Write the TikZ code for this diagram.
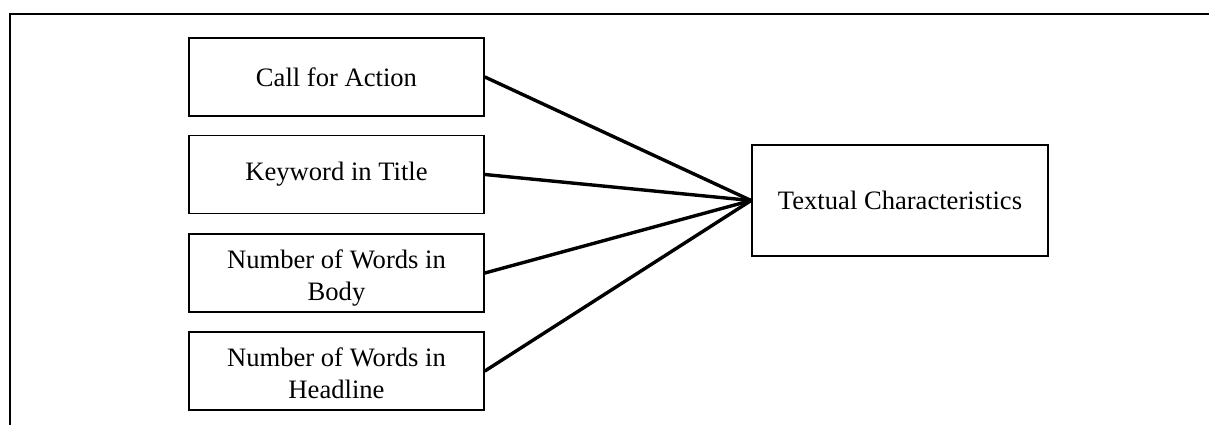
\documentclass[tikz,border=0pt]{standalone}
\usepackage{fontspec}
\setmainfont{Liberation Serif}
% two-line label, set a little below the box centre
\newcommand{\twolines}[2]{\raisebox{-5pt}[\height][\depth]{\begin{tabular}{@{}c@{}}#1\\#2\end{tabular}}}
\begin{document}
\begin{tikzpicture}[x=1pt,y=-1pt,
  factor/.style={draw=black, line width=1.8pt, rectangle, align=center,
    minimum width=295pt, minimum height=78pt, inner sep=0pt,
    font=\fontsize{26.6}{32}\selectfont},
  target/.style={factor, minimum width=296pt, minimum height=111pt},
  link/.style={line width=3.4pt, line cap=round}]
\useasboundingbox (0,0) rectangle (1209,425);
% outer frame (top and left edges)
\draw[line width=2pt] (1209,14) -- (10,14) -- (10,425);
% indicator boxes
\node[factor] (cta)  at (336.5,77)    {Call for Action};
\node[factor] (kw)   at (336.5,174.5) {Keyword in Title};
\node[factor] (body) at (336.5,273)   {\twolines{Number of Words in}{Body}};
\node[factor] (head) at (336.5,371)   {\twolines{Number of Words in}{Headline}};
% construct box
\node[target] (tc) at (900,200.5) {Textual Characteristics};
% connectors
\draw[link] (cta.east)  -- (tc.west);
\draw[link] (kw.east)   -- (tc.west);
\draw[link] (body.east) -- (tc.west);
\draw[link] (head.east) -- (tc.west);
\end{tikzpicture}
\end{document}
